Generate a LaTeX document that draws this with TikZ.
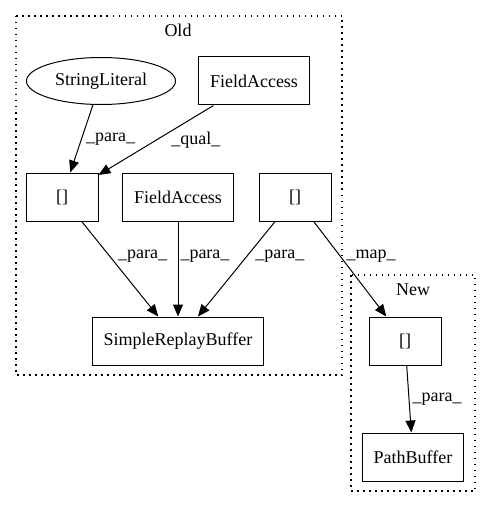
\documentclass[tikz,border=0pt]{standalone}
\usepackage{fontspec}
\setmainfont{Liberation Serif}
\usetikzlibrary{arrows.meta,
                shapes.geometric}

\begin{document}
\begin{tikzpicture}[x=1pt, y=-1pt, font=\fontsize{18}{20}\selectfont,
  box/.style={draw, line width=1pt, minimum width=72pt, minimum height=48pt, inner xsep=11.5pt},
  oval/.style={draw, ellipse, line width=1pt, minimum width=149pt, minimum height=47pt, inner sep=0pt},
  cluster/.style={draw, line width=1.2pt, dash pattern=on 1.5pt off 4.5pt},
  dep/.style={-{Triangle[length=12pt,width=10pt]}, line width=1pt},
  lbl/.style={anchor=west, inner sep=1pt}]
 \useasboundingbox (0,0) rectangle (491,508);
 \draw[cluster] (16,16) rectangle (342,375);
 \draw[cluster] (351,275) rectangle (475,491);
 \node (old) at (178,30) {Old};
 \node (new) at (413,290) {New};
 \node[oval] (str) at (101,81) {StringLiteral};
 \node[box] (fieldA) at (254,81) {FieldAccess};
 \node[box] (idxA) at (62,197) {[]};
 \node[box] (fieldB) at (178,197) {FieldAccess};
 \node[box] (idxB) at (295,197) {[]};
 \node[box] (simple) at (178,341) {SimpleReplayBuffer};
 \node[box] (idxC) at (405,341) {[]};
 \node[box] (path) at (413,457) {PathBuffer};
 \draw[dep] (str) -- node[lbl, pos=0.5, xshift=3pt] {\_para\_} (idxA);
 \draw[dep] (fieldA) -- node[lbl, pos=0.5, xshift=14pt] {\_qual\_} (idxA);
 \draw[dep] (idxA) -- node[lbl, pos=0.365, xshift=7pt] {\_para\_} (simple);
 \draw[dep] (fieldB) -- node[lbl, pos=0.365, xshift=1pt] {\_para\_} (simple);
 \draw[dep] (idxB) -- node[lbl, pos=0.365, xshift=7pt] {\_para\_} (simple);
 \draw[dep] (idxB) -- node[lbl, pos=0.365, xshift=5pt] {\_map\_} (idxC);
 \draw[dep] (idxC) -- node[lbl, pos=0.51, xshift=2pt] {\_para\_} (path);
\end{tikzpicture}
\end{document}
